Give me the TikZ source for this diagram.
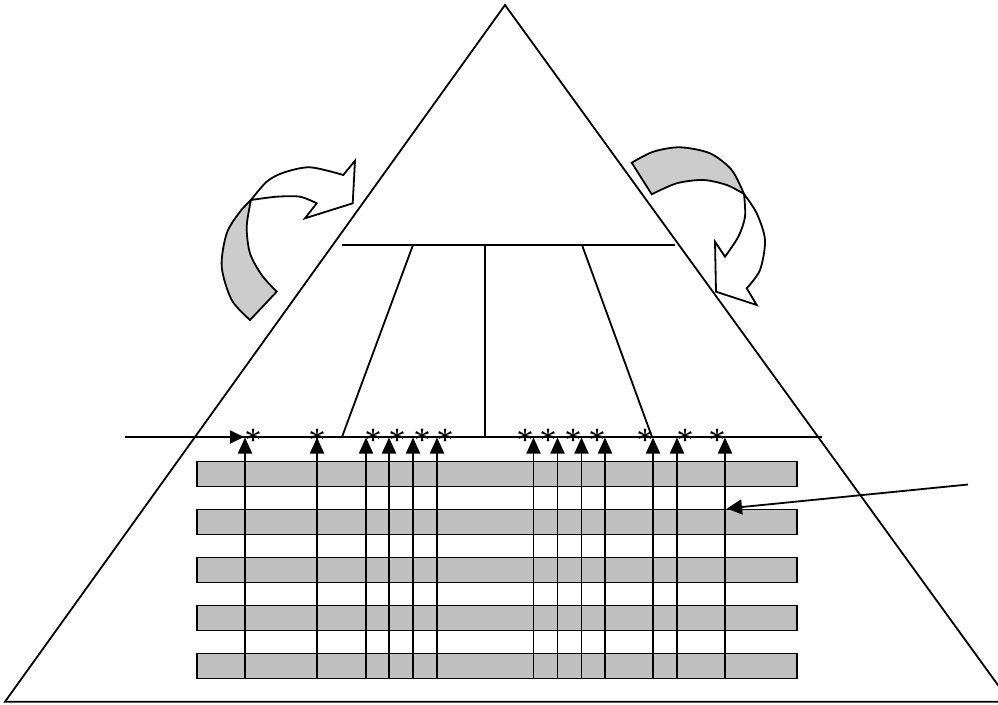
\documentclass[tikz,border=0pt]{standalone}
\usepackage{fontspec}
\setmainfont{Liberation Serif}
\usetikzlibrary{arrows.meta}
\definecolor{bargray}{HTML}{C0C0C0}
\definecolor{bandgray}{HTML}{CCCCCC}
\tikzset{
  outline/.style={draw=black, line width=1.8pt, line join=miter},
  barbox/.style={outline, fill=bargray},
  band/.style={outline, fill=bandgray},
  upArrow/.style={line width=1.8pt, -{Triangle[length=16pt,width=14pt]}},
  sideArrow/.style={line width=1.8pt, -{Triangle[length=14pt,width=13pt]}},
  ast/.style={font=\fontsize{34}{34}\selectfont, inner sep=0pt, anchor=base}
}
\begin{document}
\begin{tikzpicture}[x=1pt,y=-1pt]
\useasboundingbox (0,0) rectangle (998,704);
% pyramid
\draw[outline] (505,5) -- (5,701.7) -- (1010,701.7) -- cycle;
% upper horizontal and internal lines
\coordinate (hl) at (341.5,245);
\coordinate (hr) at (675,245);
\draw[outline] (hl) -- (hr);
\coordinate (ma) at (413,245); \coordinate (mb) at (342,437);
\coordinate (na) at (485,245); \coordinate (nb) at (485,437);
\coordinate (oa) at (582,245); \coordinate (ob) at (652,437);
\draw[outline] (ma) -- (mb);
\draw[outline] (na) -- (nb);
\draw[outline] (oa) -- (ob);
% long horizontal line with arrow
\coordinate (ll) at (125,437);
\coordinate (lr) at (822,437);
\coordinate (ltip) at (244,437);
\draw[outline] (ll) -- (lr);
\draw[sideArrow] (ll) -- (ltip);
% bars
\foreach \i in {0,...,4}{
  \draw[barbox] (197.3,{461.5+48*\i}) rectangle (796.7,{486.5+48*\i});
}
% up arrows
\foreach \x [count=\k] in {245,317,366,389,413,437,533.5,557.5,581.5,605,653,677,725}{
  \coordinate (ub\k) at (\x,678.5);
  \coordinate (ut\k) at (\x,437.5);
  \draw[upArrow] (ub\k) -- (ut\k);
}
% asterisks
\foreach \x [count=\k] in {253,317,373,397,422,445,525,548,573,597,645,685,717}{
  \node[ast] (a\k) at (\x,451) {*};
}
% right pointer arrow
\coordinate (rs) at (968,484.5);
\coordinate (re) at (727,508.5);
\draw[line width=1.8pt, -{Triangle[length=15pt,width=15pt]}] (rs) -- (re);
% left curved arrow
\filldraw[band] plot[smooth] coordinates {(250,320) (231.7,300) (221.7,266.7) (226.7,233.3) (240,211.7) (251,200)}
  -- plot[smooth] coordinates {(251,200) (246.7,226.7) (250,253.3) (261.7,275) (276.7,291.7)} -- cycle;
\filldraw[outline, fill=white] plot[smooth] coordinates {(251,200) (266.7,181.7) (283.3,172.7) (310,167.3) (343.3,175)}
  -- (355,160.7) -- (352.7,203.3) -- (305,218.3) -- (316.7,203.3)
  -- plot[smooth] coordinates {(316.7,203.3) (300,196.7) (276.7,196.7) (251,200)} -- cycle;
% right curved arrow
\filldraw[band] plot[smooth] coordinates {(631.7,162.7) (653.3,151.7) (680,147.3) (710,153.3) (731.7,170) (744,194)}
  -- plot[smooth] coordinates {(744,194) (726.7,185) (703.3,180) (676.7,183.3) (651.7,194.3)} -- cycle;
\filldraw[outline, fill=white] plot[smooth] coordinates {(744,194) (756.7,213.3) (765,240) (760,270) (746.7,288.3)}
  -- (756.7,305) -- (716,291.7) -- (715,241.7) -- (725,256.7)
  -- plot[smooth] coordinates {(725,256.7) (738.3,236.7) (745,216.7) (744,194)} -- cycle;
\end{tikzpicture}
\end{document}
